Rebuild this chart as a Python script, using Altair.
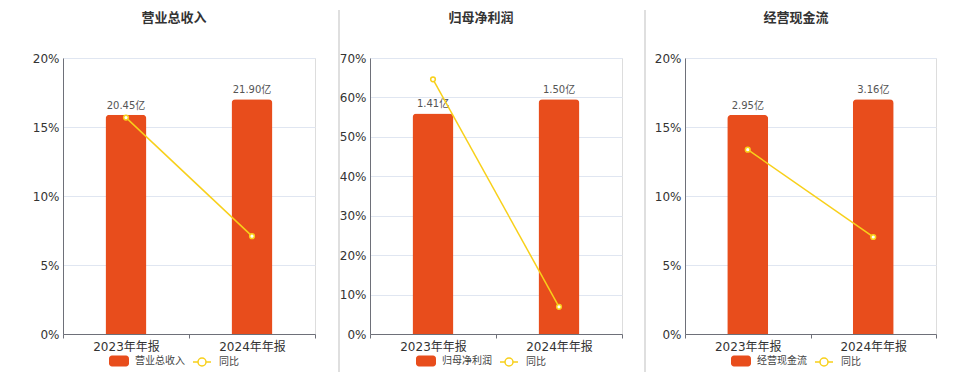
import altair as alt
import pandas as pd

# ---- data ----
periods = ["2023年年报", "2024年年报"]
titles = ["营业总收入", "归母净利润", "经营现金流"]
revenue = [20.45, 21.90]
revenue_yoy = [15.68, 7.09]
profit = [1.41, 1.50]
profit_yoy = [64.6, 6.9]
cashflow = [2.95, 3.16]
cashflow_yoy = [13.36, 7.03]
yoy_name = "同比"
pct_max = [20, 70, 20]
pct_step = [5, 10, 5]

ORANGE = "#E84D1C"
YELLOW = "#F8D01A"
AXIS_GRAY = "#6E7079"
GRID = "#E0E6F1"
FONT = "DejaVu Sans, Noto Sans CJK SC"
CJK = "Noto Sans CJK SC"

RECT = "M-0.7,-0.55H0.7A0.3,0.3 0 0 1 1,-0.25V0.25A0.3,0.3 0 0 1 0.7,0.55H-0.7A0.3,0.3 0 0 1 -1,0.25V-0.25A0.3,0.3 0 0 1 -0.7,-0.55Z"
LINESYM = "M-0.9,0H-0.4M0.4,0H0.9M0.4,0A0.4,0.4 0 1 1 -0.4,0A0.4,0.4 0 1 1 0.4,0Z"


def panel(title, vals, yoy, pmax, pstep, extent, sep_x, sep_visible):
    bar_df = pd.DataFrame({
        "period": periods,
        "value": vals,
        "label": [f"{v:.2f}亿" for v in vals],
        "s": [title] * len(periods),
    })
    line_df = pd.DataFrame({"period": periods, "yoy": yoy, "s": [yoy_name] * len(periods)})

    x = alt.X(
        "period:N", sort=periods, title=None,
        scale=alt.Scale(paddingInner=0, paddingOuter=0),
        axis=alt.Axis(labelAngle=0, labelFontSize=12, labelColor="#333", labelFont=FONT,
                      labelPadding=3, tickBand="extent", tickSize=4, tickColor=AXIS_GRAY,
                      domainColor=AXIS_GRAY, grid=False),
    )
    legend_bar = alt.Legend(
        orient="none", legendX=46, legendY=293, direction="horizontal", title=None,
        symbolSize=400, symbolType=RECT, symbolStrokeWidth=0, labelFontSize=10,
        labelColor="#444", labelFont=CJK, labelOffset=6, padding=0,
    )
    legend_line = alt.Legend(
        orient="none", legendX=128, legendY=293, direction="horizontal", title=None,
        symbolSize=400, symbolType=LINESYM, symbolStrokeWidth=1.5, symbolFillColor="#ffffff",
        labelFontSize=10, labelColor="#444", labelFont=CJK, labelOffset=6, padding=0,
    )

    ybar = alt.Y("value:Q", scale=alt.Scale(domain=[0, max(vals) * 1.176]), axis=None)
    base_bar = alt.Chart(bar_df)
    bars = base_bar.mark_bar(size=41, cornerRadiusTopLeft=4, cornerRadiusTopRight=4).encode(
        x=x, y=ybar,
        color=alt.Color("s:N", scale=alt.Scale(domain=[title], range=[ORANGE]), legend=legend_bar))
    texts = base_bar.mark_text(baseline="bottom", dy=-4, fontSize=10, color="#555", font=FONT).encode(
        x=x, y=ybar, text="label:N")
    bar_layer = alt.layer(bars, texts)

    ypct = alt.Y("yoy:Q", title=None,
                 scale=alt.Scale(domain=[0, pmax], nice=False),
                 axis=alt.Axis(orient="left", values=list(range(0, pmax + 1, pstep)),
                               labelExpr="datum.value + '%'", labelFontSize=12, labelColor="#333",
                               labelFont=FONT, labelPadding=4, ticks=False, tickSize=0,
                               domainColor=AXIS_GRAY, gridColor=GRID, grid=True,
                               minExtent=extent, maxExtent=extent))
    base_line = alt.Chart(line_df)
    line = base_line.mark_line(strokeWidth=1.5).encode(
        x=x, y=ypct,
        stroke=alt.Stroke("s:N", scale=alt.Scale(domain=[yoy_name], range=[YELLOW]), legend=legend_line))
    pts = base_line.mark_point(filled=True, fill="#ffffff", stroke=YELLOW, strokeWidth=1.5,
                               size=22, opacity=1).encode(x=x, y=ypct)
    line_layer = alt.layer(line, pts)

    sep = alt.Chart(pd.DataFrame({"t": [title]})).mark_rule(
        color="#D4D4D4", strokeWidth=1.5, opacity=1 if sep_visible else 0).encode(
        x=alt.value(sep_x), y=alt.value(-48), y2=alt.value(314))
    ttl = alt.Chart(pd.DataFrame({"title": [title]})).mark_text(
        fontSize=13, fontWeight="bold", color="#333", font=CJK, baseline="middle").encode(
        text="title:N", x=alt.value(111), y=alt.value(-40))

    return alt.layer(sep, ttl, bar_layer, line_layer).resolve_scale(y="independent")


p1 = panel(titles[0], revenue, revenue_yoy, pct_max[0], pct_step[0], 54, -30, False).properties(width=252, height=276)
p2 = panel(titles[1], profit, profit_yoy, pct_max[1], pct_step[1], 49, -31, True).properties(width=252, height=276)
p3 = panel(titles[2], cashflow, cashflow_yoy, pct_max[2], pct_step[2], 57, -40, True).properties(width=251, height=276)

chart = alt.hconcat(p1, p2, p3, spacing=4).resolve_scale(
    color="independent", stroke="independent"
).resolve_legend(
    color="independent", stroke="independent"
).properties(
    padding={"left": 0, "top": 0, "right": 0, "bottom": 0}
).configure_view(stroke=None).configure(font=FONT)

chart.save("out.html", embed_options={"renderer": "svg", "actions": False})
